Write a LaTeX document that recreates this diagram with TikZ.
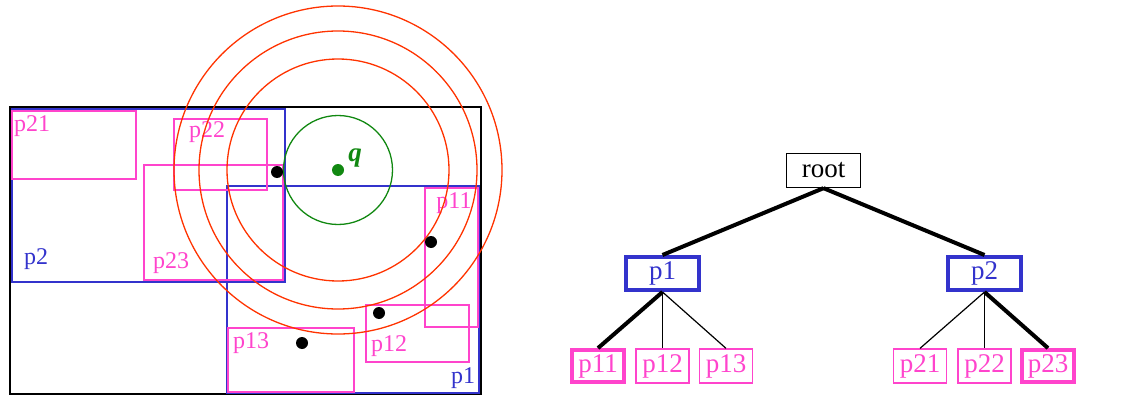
\documentclass[tikz,border=0pt]{standalone}
\usepackage{fontspec}
\setmainfont{Liberation Serif}
\definecolor{pk}{HTML}{FF44CC}
\definecolor{bl}{HTML}{3333CC}
\definecolor{rd}{HTML}{FF3300}
\definecolor{gr}{HTML}{118811}
\tikzset{
  outer/.style={draw=black,line width=1.6pt},
  mbr/.style={draw=bl,line width=1.4pt},
  leafr/.style={draw=pk,line width=1.3pt},
  ring/.style={draw=rd,line width=1.3pt},
  pt/.style={fill=black},
  maplab/.style={inner sep=0pt,font=\fontsize{24}{24}\selectfont},
  tnode/.style={rectangle,inner sep=0pt,font=\fontsize{27}{27}\selectfont},
  rootbox/.style={tnode,draw=black,line width=1.3pt,minimum width=74pt,minimum height=34pt},
  innerbox/.style={tnode,draw=bl,text=bl,line width=4pt,minimum width=73pt,minimum height=33pt},
  leafbox/.style={tnode,draw=pk,text=pk,line width=1.3pt,minimum width=53pt,minimum height=34pt},
  hitbox/.style={tnode,draw=pk,text=pk,line width=3.8pt,minimum width=52pt,minimum height=32pt},
  thick edge/.style={line width=4pt},
  thin edge/.style={line width=1.2pt},
}
\begin{document}
\begin{tikzpicture}[x=1pt,y=-1pt]
\useasboundingbox (0,0) rectangle (1122,396);
% space
\draw[outer] (10,107) rectangle (481,394);
\draw[mbr] (12,109) rectangle (285,282);
\draw[mbr] (227,186) rectangle (479,393);
\draw[leafr] (12,111) rectangle (136,179);
\draw[leafr] (174,119) rectangle (267,190);
\draw[leafr] (144,165) rectangle (283,280);
\draw[leafr] (425,188) rectangle (478,327);
\draw[leafr] (366,305) rectangle (469,362);
\draw[leafr] (228,328) rectangle (354,392);
\node[maplab,text=pk] (l21) at (32,126) {p21};
\node[maplab,text=pk] (l22) at (207,132) {p22};
\node[maplab,text=pk] (l23) at (171,263) {p23};
\node[maplab,text=pk] (l11) at (454,203) {p11};
\node[maplab,text=pk] (l12) at (389,346) {p12};
\node[maplab,text=pk] (l13) at (251,343) {p13};
\node[maplab,text=bl] (lp2) at (36,259) {p2};
\node[maplab,text=bl] (lp1) at (463,378) {p1};
\draw[ring] (338,170) circle (111);
\draw[ring] (338,170) circle (139);
\draw[ring] (338,170) circle (164);
\draw[draw=gr,line width=1.3pt] (338,170) circle (54.5);
\fill[gr] (338,170) circle (6);
\node[inner sep=0pt,text=gr,font=\fontsize{27}{27}\selectfont\bfseries\itshape] (q) at (355,158) {q};
\fill[pt] (277,172) circle (6);
\fill[pt] (431,242) circle (6);
\fill[pt] (379,313) circle (6);
\fill[pt] (302,343) circle (6);
% tree
\node[rootbox] (root) at (823.5,170.5) {root};
\node[innerbox] (p1) at (662.5,273.5) {p1};
\node[innerbox] (p2) at (984.5,273.5) {p2};
\node[hitbox] (p11) at (598,366) {p11};
\node[leafbox] (p12) at (662.5,366) {p12};
\node[leafbox] (p13) at (726,366) {p13};
\node[leafbox] (p21) at (920,366) {p21};
\node[leafbox] (p22) at (984.5,366) {p22};
\node[hitbox] (p23) at (1048,366) {p23};
\draw[thick edge] (root.south) -- (p1.north);
\draw[thick edge] (root.south) -- (p2.north);
\draw[thick edge] (p1.south) -- (p11.north);
\draw[thin edge] (p1.south) -- (p12.north);
\draw[thin edge] (p1.south) -- (p13.north);
\draw[thin edge] (p2.south) -- (p21.north);
\draw[thin edge] (p2.south) -- (p22.north);
\draw[thick edge] (p2.south) -- (p23.north);
\end{tikzpicture}
\end{document}
